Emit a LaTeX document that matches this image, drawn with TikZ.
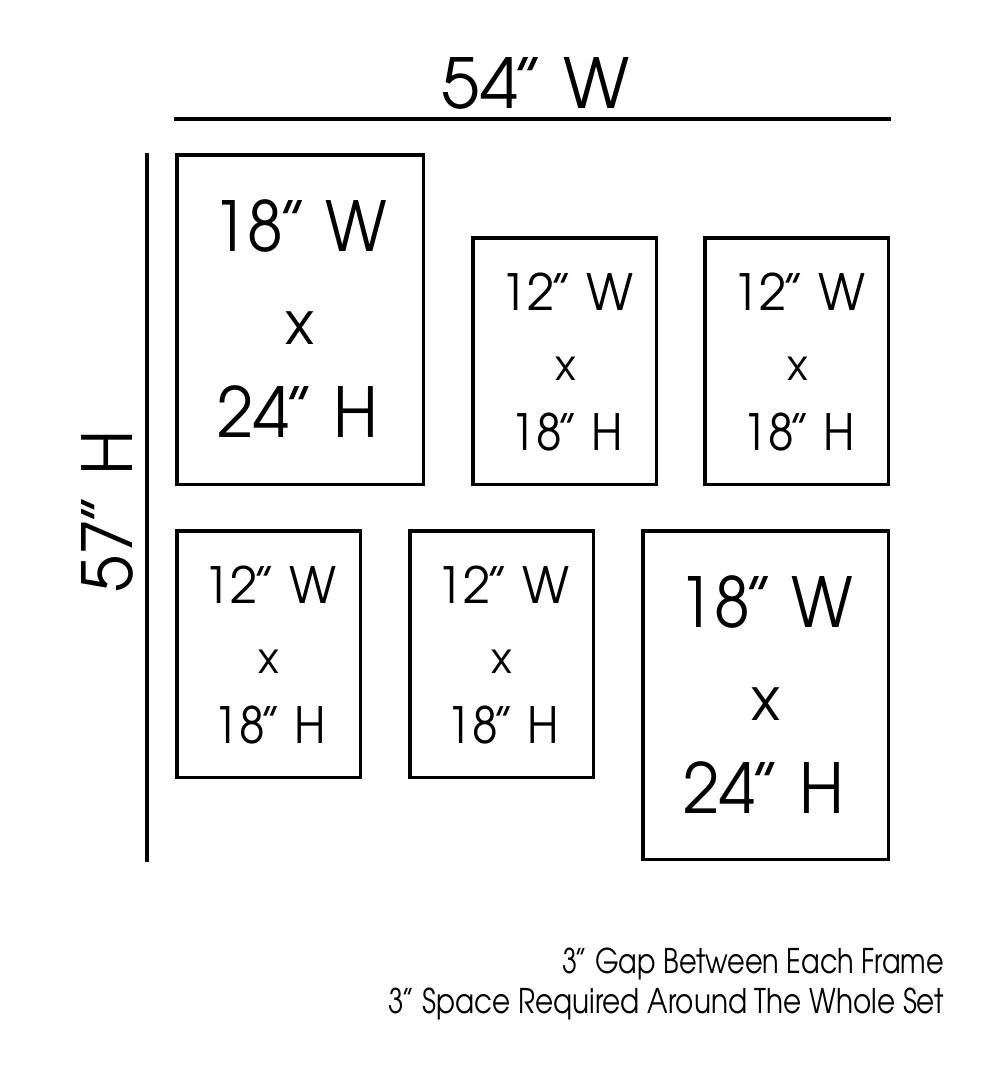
\documentclass[tikz,border=0pt]{standalone}
\usepackage{fontspec}
\setmainfont{TeX Gyre Adventor}
\newcommand\qq{\kern-0.1em”}
\begin{document}
\begin{tikzpicture}[x=1pt,y=-1pt,
  frame/.style={draw=black,line width=3.5pt,inner sep=0pt,outer sep=0pt},
  dimline/.style={draw=black,line width=4pt},
  bigtxt/.style={anchor=base,inner sep=0pt,font=\fontsize{69}{69}\selectfont},
  bigx/.style={anchor=base,inner sep=0pt,font=\fontsize{60}{60}\selectfont},
  smalltxt/.style={anchor=base,inner sep=0pt,font=\fontsize{50}{50}\selectfont},
  smallx/.style={anchor=base,inner sep=0pt,font=\fontsize{43}{43}\selectfont},
  notetxt/.style={anchor=base east,inner sep=0pt,font=\fontsize{34}{34}\selectfont}]
\useasboundingbox[fill=white] (0,0) rectangle (1000,1081);
% dimension lines
\coordinate (tl) at (174,119);
\coordinate (tr) at (891,119);
\coordinate (lt) at (147,153);
\coordinate (lb) at (147,862);
\draw[dimline] (tl) -- (tr);
\draw[dimline] (lt) -- (lb);
\node[bigtxt] (topW) at (536,108) {54\qq\ W};
\node[bigtxt,rotate=90,xscale=0.96] (leftH) at (132,511) {57\qq\ H};
% frames
\node[frame,minimum width=246.5pt,minimum height=329.5pt] (f1) at (300,319.5) {};
\node[frame,minimum width=183.5pt,minimum height=246.5pt] (f2) at (564.5,361) {};
\node[frame,minimum width=183.5pt,minimum height=246.5pt] (f3) at (796.5,361) {};
\node[frame,minimum width=183.5pt,minimum height=246.5pt] (f4) at (268.5,654) {};
\node[frame,minimum width=183.5pt,minimum height=246.5pt] (f5) at (501.5,654) {};
\node[frame,minimum width=245.5pt,minimum height=328.5pt] (f6) at (765.5,695) {};
% frame labels
\node[bigtxt,xscale=0.93] (f1a) at (300,251) {18\qq\ W};
\node[bigx] (f1b) at (300,344) {x};
\node[bigtxt,xscale=0.95] (f1c) at (298,437) {24\qq\ H};
\node[smalltxt,xscale=0.98] (f2a) at (567,310) {12\qq\ W};
\node[smallx] (f2b) at (566,380) {x};
\node[smalltxt,xscale=0.92] (f2c) at (567,450) {18\qq\ H};
\node[smalltxt,xscale=0.98] (f3a) at (799,310) {12\qq\ W};
\node[smallx] (f3b) at (798,380) {x};
\node[smalltxt,xscale=0.92] (f3c) at (799,450) {18\qq\ H};
\node[smalltxt,xscale=0.98] (f4a) at (270,603) {12\qq\ W};
\node[smallx] (f4b) at (269,673) {x};
\node[smalltxt,xscale=0.92] (f4c) at (270,743) {18\qq\ H};
\node[smalltxt,xscale=0.98] (f5a) at (503,603) {12\qq\ W};
\node[smallx] (f5b) at (502,673) {x};
\node[smalltxt,xscale=0.92] (f5c) at (503,743) {18\qq\ H};
\node[bigtxt,xscale=0.93] (f6a) at (766,627) {18\qq\ W};
\node[bigx] (f6b) at (766,720) {x};
\node[bigtxt,xscale=0.95] (f6c) at (764,813) {24\qq\ H};
% notes
\node[notetxt,xscale=0.80] (n1) at (944,973) {3\qq\ Gap Between Each Frame};
\node[notetxt,xscale=0.82] (n2) at (944,1013) {3\qq\ Space Required Around The Whole Set};
\end{tikzpicture}
\end{document}
